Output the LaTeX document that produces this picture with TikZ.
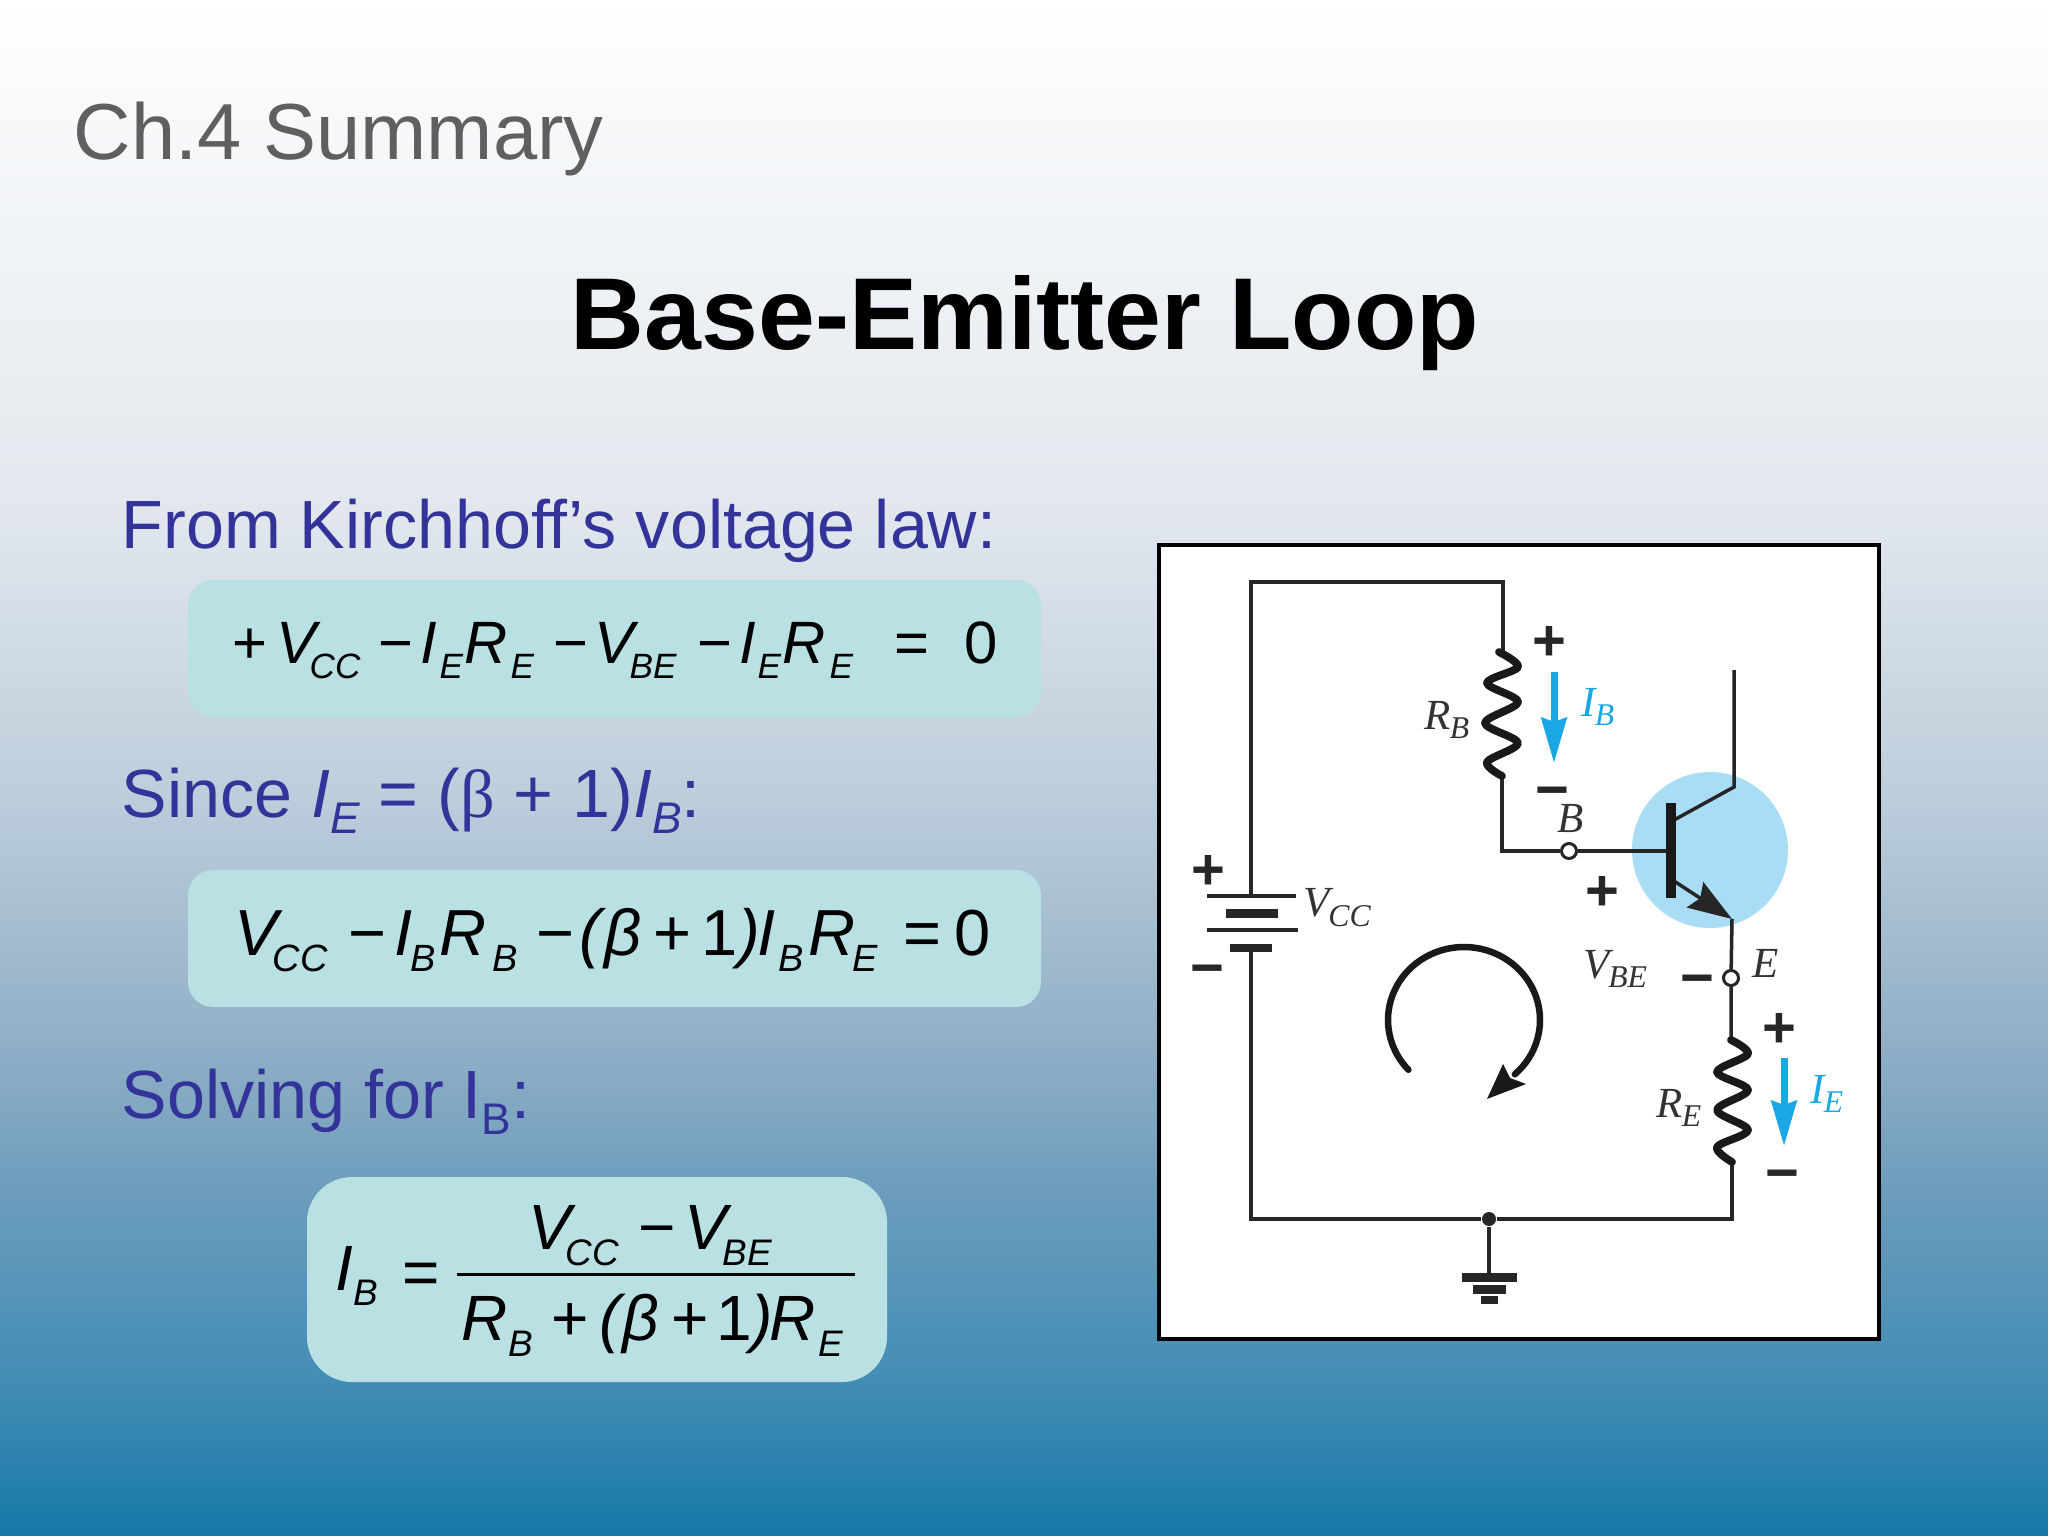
\documentclass[tikz,border=0pt]{standalone}
\usepackage{fontspec}
\setmainfont{Liberation Sans}
\newfontfamily\lserif{Liberation Serif}
\usetikzlibrary{arrows.meta}
\newlength\pxu \pxu=.01cm
\newcommand\pc[3]{\rlap{\kern#1\pxu\raisebox{-#2\pxu}{#3}}}
\newcommand\fsz[1]{\fontsize{#1}{#1}\selectfont}
\newcommand\sbA[1]{\fsz{10}\itshape #1}
\newcommand\sbB[1]{\fsz{10.8}\itshape #1}
\newcommand\sbC[1]{\fsz{10.5}\itshape #1}
\newcommand\lab[2]{{\lserif\itshape\fsz{12.2}#1\kern-.3pt\raisebox{-2.8pt}{\fsz{9}#2}}}
\newcommand\stm[2]{#1\raisebox{-4.8pt}{\fsz{12.6}\itshape #2}}
\newcommand\mns{\raisebox{-.33em}[.06em][.06em]{−}}
\definecolor{txtblue}{HTML}{333399}
\definecolor{txtgrey}{HTML}{5F5F5F}
\definecolor{boxfill}{HTML}{B9E0E3}
\definecolor{cyanar}{HTML}{1AA7E6}
\definecolor{ballc}{HTML}{A9DCF5}
\definecolor{g0}{HTML}{FFFFFF}
\definecolor{g1}{HTML}{F6F8FA}
\definecolor{g2}{HTML}{E3E8EE}
\definecolor{g3}{HTML}{BCCDDB}
\definecolor{g4}{HTML}{8FAEC6}
\definecolor{g5}{HTML}{6A9CBC}
\definecolor{g6}{HTML}{3E8BB3}
\definecolor{g7}{HTML}{1578A8}
\tikzset{
  x=.01cm,y=-.01cm,
  eqbox/.style={fill=boxfill,rounded corners=.25cm},
  wire/.style={draw=black!85,line width=.035cm,line join=miter},
  res/.style={draw=black!90,line width=.078cm,line cap=round,line join=round},
  thinplate/.style={draw=black!85,line width=.04cm},
  thickplate/.style={draw=black!85,line width=.08cm},
  cur/.style={draw=cyanar,line width=.07cm,-{Stealth[length=.45cm,width=.25cm,inset=.04cm]}},
  term/.style={circle,draw=black!85,fill=white,line width=.03cm,minimum size=.15cm,inner sep=0},
  eqtxt/.style={anchor=base west,inner sep=0,text=black},
  sign/.style={inner sep=0,font=\bfseries\fsz{16.5},text=black!85},
  clab/.style={inner sep=0,text=black!80},
  ilab/.style={inner sep=0,text=cyanar},
  hl/.style={anchor=base west,inner sep=0,text=txtblue,font=\fsz{19.4}}
}
\begin{document}
\begin{tikzpicture}
\useasboundingbox (0,0) rectangle (2048,1536);
% background
\fill[top color=g0,bottom color=g1] (0,0) rectangle (2048,131);
\fill[top color=g1,bottom color=g2] (0,130) rectangle (2048,501);
\fill[top color=g2,bottom color=g3] (0,500) rectangle (2048,801);
\fill[top color=g3,bottom color=g4] (0,800) rectangle (2048,1051);
\fill[top color=g4,bottom color=g5] (0,1050) rectangle (2048,1201);
\fill[top color=g5,bottom color=g6] (0,1200) rectangle (2048,1401);
\fill[top color=g6,bottom color=g7] (0,1400) rectangle (2048,1536);
% headings
\node[anchor=base west,inner sep=0,text=txtgrey,font=\fsz{22.6}] (ch) at (73,159) {Ch.4 Summary};
\node[anchor=base,inner sep=0,text=black,font=\bfseries\fsz{29.05}] (title) at (1025,349) {Base-Emitter Loop};
\node[hl] (h1) at (121,548) {From Kirchhoff’s voltage law:};
\node[hl] (h2) at (121,817) {Since \stm{\textit{I}}{E} = ({\lserif β} + 1)\stm{\textit{I}}{B}:};
\node[hl] (h3) at (121,1118) {Solving for I\raisebox{-4.8pt}{\fsz{12.6}B}:};
% equation boxes
\fill[eqbox] (188,580) rectangle (1041,717);
\fill[eqbox] (188,870) rectangle (1041,1007);
\fill[eqbox,rounded corners=.45cm] (307,1177) rectangle (887,1382);
% equation 1
\node[eqtxt,font=\fsz{17}] (eqa) at (232,663) {%
\pc{0}{0}{+}\pc{44}{0}{\textit{V}}\pc{77}{15}{\sbA{CC}}\pc{146}{0}{−}%
\pc{188}{0}{\textit{I}}\pc{207}{15}{\sbA{E}}\pc{232}{0}{\textit{R}}\pc{278}{15}{\sbA{E}}\pc{321}{0}{−}%
\pc{362}{0}{\textit{V}}\pc{397}{15}{\sbA{BE}}\pc{465}{0}{−}%
\pc{507}{0}{\textit{I}}\pc{525}{15}{\sbA{E}}\pc{550}{0}{\textit{R}}\pc{597}{15}{\sbA{E}}%
\pc{662}{0}{=}\pc{732}{0}{0}\kern770\pxu\relax};
% equation 2
\node[eqtxt,font=\fsz{18.5}] (eqb) at (234,955) {%
\pc{0}{0}{\textit{V}}\pc{38}{16}{\sbB{CC}}\pc{114}{0}{−}%
\pc{160}{0}{\textit{I}}\pc{176}{16}{\sbB{B}}\pc{205}{0}{\textit{R}}\pc{258}{16}{\sbB{B}}\pc{302}{0}{−}%
\pc{345}{0}{\textit{(}}\pc{370}{0}{\textit{β}}\pc{419}{0}{+}\pc{467}{0}{1}\pc{504}{0}{\textit{)}}%
\pc{523}{0}{\textit{I}}\pc{544}{16}{\sbB{B}}\pc{574}{0}{\textit{R}}\pc{618}{16}{\sbB{E}}%
\pc{669}{0}{=}\pc{720}{0}{0}\kern755\pxu\relax};
% equation 3
\node[eqtxt,font=\fsz{18.2}] (eqc) at (335,1290) {%
\pc{0}{0}{\textit{I}}\pc{18}{15}{\sbC{B}}\pc{67}{4}{=}\kern101\pxu\relax};
\node[eqtxt,font=\fsz{18.2}] (num) at (528,1249) {%
\pc{0}{0}{\textit{V}}\pc{37}{16}{\sbC{CC}}\pc{110}{0}{−}%
\pc{156}{0}{\textit{V}}\pc{194}{16}{\sbC{BE}}\kern244\pxu\relax};
\node[eqtxt,font=\fsz{18.2}] (den) at (461,1340) {%
\pc{0}{0}{\textit{R}}\pc{47}{16}{\sbC{B}}\pc{90}{0}{+}\pc{138}{0}{\textit{(}}\pc{161}{0}{\textit{β}}%
\pc{210}{0}{+}\pc{255}{0}{1}\pc{290}{0}{\textit{)}}\pc{308}{0}{\textit{R}}\pc{357}{16}{\sbC{E}}\kern386\pxu\relax};
\coordinate (barl) at (457,1274);
\coordinate (barr) at (855,1274);
\draw[line width=.03cm] (barl) -- (barr);
% circuit panel
\draw[fill=white,line width=.035cm] (1159,545) rectangle (1879,1339);
\fill[ballc] (1710,850) circle[radius=78];
% named junctions
\coordinate (tl) at (1251,582);
\coordinate (tr) at (1503,582);
\coordinate (rbt) at (1503,652);
\coordinate (rbb) at (1502,776);
\coordinate (bc) at (1502,851);
\coordinate (bar) at (1669,851);
\coordinate (bart) at (1671,803);
\coordinate (barb) at (1671,898);
\coordinate (cb) at (1674,820);
\coordinate (ck) at (1734,787);
\coordinate (ct) at (1734,670);
\coordinate (eb) at (1674,881);
\coordinate (ek) at (1732,919);
\coordinate (ret) at (1731,1040);
\coordinate (reb) at (1732,1162);
\coordinate (br) at (1732,1219);
\coordinate (bl) at (1251,1219);
\coordinate (gt) at (1489,1277);
\coordinate (bat1) at (1251,896);
\coordinate (bat2) at (1251,948);
% terminals
\node[term] (tb) at (1569,851) {};
\node[term] (te) at (1731,978) {};
\node[circle,fill=black!85,minimum size=.14cm,inner sep=0] (gnd) at (1489,1219) {};
% wires
\draw[wire] (bat1) -- (tl) -- (tr) -- (rbt);
\draw[wire] (rbb) -- (bc) -- (tb) -- (bar);
\draw[wire] (bat2) -- (bl) -- (gnd) -- (br) -- (reb);
\draw[wire] (ek) -- (te) -- (ret);
\draw[wire] (gnd) -- (gt);
\draw[wire] (cb) -- (ck) -- (ct);
\draw[wire,-{Stealth[length=.44cm,width=.3cm,inset=.06cm]}] (eb) -- (ek);
\draw[draw=black!90,line width=.1cm] (bart) -- (barb);
% resistors
\draw[res] plot[smooth,tension=.55] coordinates {(1499,652) (1518,667) (1487,683) (1518,702) (1485,723) (1518,743) (1487,762) (1502,776)};
\draw[res] plot[smooth,tension=.55] coordinates {(1731,1040) (1748,1054) (1717,1072) (1748,1090) (1717,1110) (1748,1130) (1717,1147) (1732,1162)};
% battery
\draw[thinplate] (1207,896) -- (1296,896);
\draw[thickplate,line width=.09cm] (1226,913) -- (1278,913);
\draw[thinplate] (1207,930) -- (1298,930);
\draw[thickplate] (1230,948) -- (1272,948);
% ground
\draw[line width=.09cm,black!85] (1462,1277) -- (1517,1277);
\draw[line width=.09cm,black!85] (1473,1289) -- (1506,1289);
\draw[line width=.08cm,black!85] (1481,1300) -- (1498,1300);
% current arrows
\coordinate (iba) at (1554,672);
\coordinate (ibb) at (1554,763);
\coordinate (iea) at (1784,1058);
\coordinate (ieb) at (1784,1146);
\draw[cur] (iba) -- (ibb);
\draw[cur] (iea) -- (ieb);
% loop arrow
\draw[draw=black!90,line width=.065cm,line cap=round] plot[domain=223:-48,samples=70] ({1464+76*cos(\x)},{1020-73*sin(\x)});
\fill[black!90] (1487,1099) -- (1503,1064) -- (1510,1078) -- (1526,1084) -- cycle;
% signs
\node[sign] (p1) at (1549,643) {+};
\node[sign] (m1) at (1552,790) {\mns};
\node[sign] (p2) at (1602,893) {+};
\node[sign] (m2) at (1697,978) {\mns};
\node[sign] (p3) at (1779,1030) {+};
\node[sign] (m3) at (1782,1173) {\mns};
\node[sign] (p4) at (1208,872) {+};
\node[sign] (m4) at (1207,968) {\mns};
% circuit labels
\node[clab] (vcc) at (1337,908) {\lab{V}{CC}};
\node[clab] (rb) at (1447,720) {\lab{R}{B}};
\node[ilab] (ib) at (1598,707) {\lab{I}{B}};
\node[clab] (lb) at (1571,819) {{\lserif\itshape\fsz{12.2}B}};
\node[clab] (vbe) at (1615,969) {\lab{V}{BE}};
\node[clab] (le) at (1766,963) {{\lserif\itshape\fsz{12.2}E}};
\node[clab] (re) at (1679,1108) {\lab{R}{E}};
\node[ilab] (ie) at (1827,1094) {\lab{I}{E}};
\end{tikzpicture}
\end{document}
